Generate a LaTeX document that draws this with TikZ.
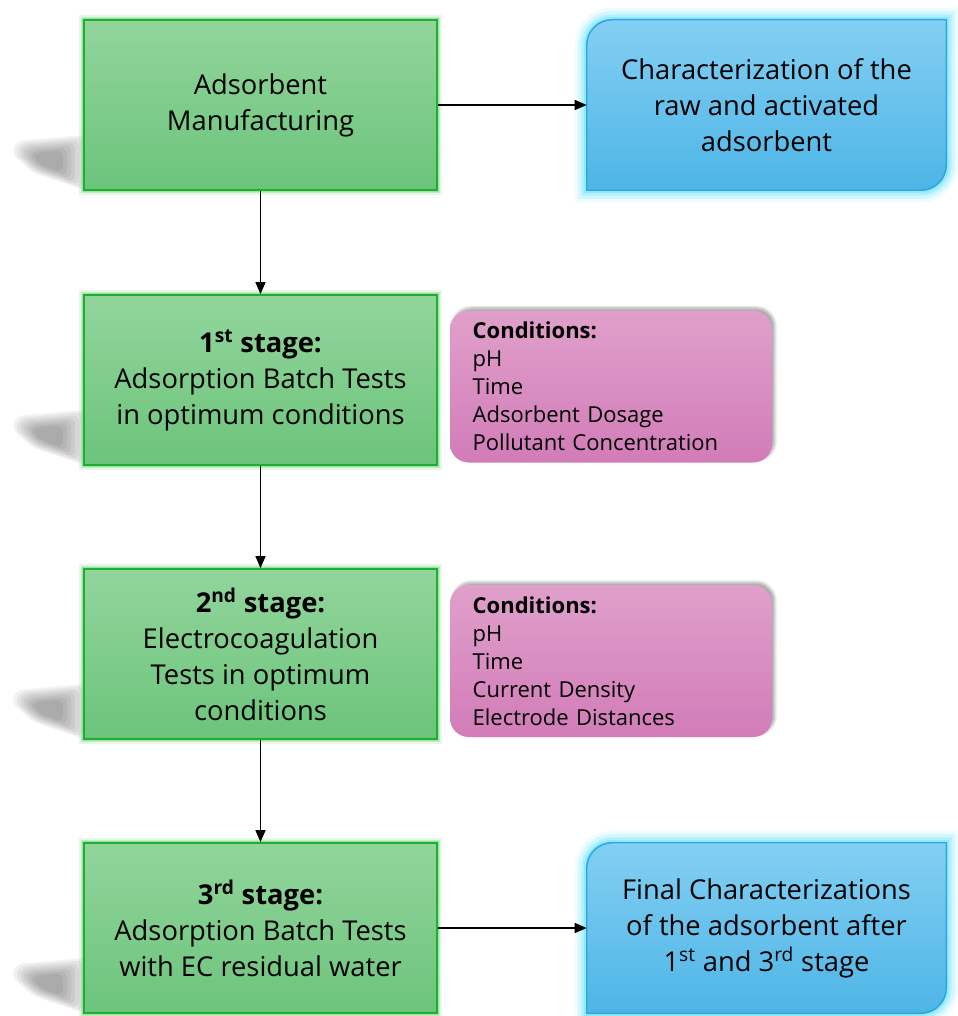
\documentclass[tikz,border=0pt]{standalone}
\usepackage{fontspec}
\setmainfont{Open Sans}
\usetikzlibrary{arrows.meta,shadows.blur,backgrounds}

\definecolor{greentop}{HTML}{92D59C}
\definecolor{greenbot}{HTML}{6CC47B}
\definecolor{greenedge}{HTML}{1CB02E}
\definecolor{greenglow}{HTML}{7FD68A}
\definecolor{bluetop}{HTML}{84CFF3}
\definecolor{bluebot}{HTML}{4DB5E6}
\definecolor{blueedge}{HTML}{2DA6DC}
\definecolor{blueglow}{HTML}{6FE3FF}
\definecolor{pinktop}{HTML}{E0A0CB}
\definecolor{pinkbot}{HTML}{D27CB8}

\tikzset{
  stage/.style={draw=greenedge, line width=1.3pt, top color=greentop, bottom color=greenbot,
    minimum width=264.75pt, minimum height=127.5pt, align=center, inner sep=0pt,
    font=\fontsize{20.5}{27}\selectfont,
    preaction={draw=greenglow, line width=8pt, opacity=0.2},
    preaction={draw=greenglow, line width=5pt, opacity=0.35},
    preaction={draw=greenglow, line width=3pt, opacity=0.5}},
  charbox/.style={minimum width=269.25pt, minimum height=127.5pt, align=center, inner sep=0pt,
    font=\fontsize{20.5}{27}\selectfont},
  bluepath/.style={draw=blueedge, line width=1.1pt, top color=bluetop, bottom color=bluebot,
    preaction={draw=blueglow, line width=18pt, opacity=0.12},
    preaction={draw=blueglow, line width=13pt, opacity=0.2},
    preaction={draw=blueglow, line width=8pt, opacity=0.35},
    preaction={draw=blueglow, line width=4pt, opacity=0.5}},
  condbox/.style={rounded corners=14pt, top color=pinktop, bottom color=pinkbot,
    minimum width=241.5pt, minimum height=114pt, text width=207.5pt, inner xsep=17pt,
    align=left, font=\fontsize{16.5}{21}\selectfont,
    blur shadow={shadow xshift=2pt, shadow yshift=2pt, shadow blur steps=6, shadow opacity=35}},
  flow/.style={-{Triangle[length=9pt,width=7.5pt]}, line width=1.1pt},
  castshade/.style={fill=black, opacity=0.055, rounded corners=5pt}
}

\begin{document}
\begin{tikzpicture}[x=0.75pt,y=0.75pt,yscale=-1,xscale=1]
\useasboundingbox (0,0) rectangle (957,1016);

% stage boxes
\node[stage] (g1) at (260.5,105) {Adsorbent\\Manufacturing};
\node[stage] (g2) at (260.5,380) {\textbf{1\textsuperscript{st} stage:}\\Adsorption Batch Tests\\in optimum conditions};
\node[stage] (g3) at (260.5,654) {\textbf{2\textsuperscript{nd} stage:}\\Electrocoagulation\\Tests in optimum\\conditions};
\node[stage] (g4) at (260.5,928) {\textbf{3\textsuperscript{rd} stage:}\\Adsorption Batch Tests\\with EC residual water};

% characterization boxes
\node[charbox] (c1) at (766.5,105) {};
\node[charbox] (c4) at (766.5,928) {};
\path[bluepath] (c1.south west) [rounded corners=19pt] -- (c1.north west) [sharp corners] -- (c1.north east) [rounded corners=19pt] -- (c1.south east) [sharp corners] -- cycle;
\path[bluepath] (c4.south west) [rounded corners=19pt] -- (c4.north west) [sharp corners] -- (c4.north east) [rounded corners=19pt] -- (c4.south east) [sharp corners] -- cycle;
\node[charbox] at (c1) {Characterization of the\\raw and activated\\adsorbent};
\node[charbox] at (c4) {Final Characterizations\\of the adsorbent after\\1\textsuperscript{st} and 3\textsuperscript{rd} stage};

% conditions
\node[condbox] (p2) at (611,386.5) {\textbf{Conditions:}\\pH\\Time\\Adsorbent Dosage\\Pollutant Concentration};
\node[condbox] (p3) at (611,661) {\textbf{Conditions:}\\pH\\Time\\Current Density\\Electrode Distances};

% cast shadows, soft
\begin{scope}[on background layer]
\foreach \g in {g1,g2,g3,g4}
  \foreach \s in {1,0.9,0.8,0.7,0.6,0.5,0.4}
    \fill[castshade] ([shift={(-36+40*\s,-30-26*\s)}]\g.south west)
      -- ([shift={(-36-30*\s,-30-20*\s)}]\g.south west)
      -- ([shift={(-36-36*\s,-30-8*\s)}]\g.south west)
      -- ([shift={(-36-14*\s,-30+12*\s)}]\g.south west)
      -- ([shift={(-36+40*\s,-30+30*\s)}]\g.south west) -- cycle;
\end{scope}

% arrows
\draw[flow] (g1) -- (g2);
\draw[flow] (g2) -- (g3);
\draw[flow] (g3) -- (g4);
\draw[flow] (g1) -- (c1);
\draw[flow] (g4) -- (c4);

\end{tikzpicture}
\end{document}
